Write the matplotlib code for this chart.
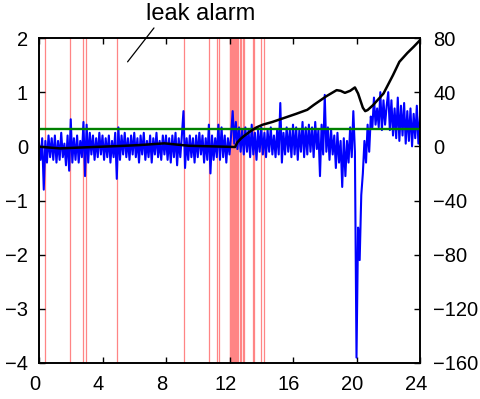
import numpy as np
import matplotlib
matplotlib.use("Agg")
import matplotlib.pyplot as plt
from matplotlib.transforms import ScaledTranslation

plt.rcParams['font.family'] = ['Liberation Sans', 'DejaVu Sans']

# ---- data -------------------------------------------------------------
# pressure-residual signal (left axis), sampled every 0.1 h from 0 to 24 h
residual = [
    0.05, -0.25, 0.15, -0.80, 0.10, -0.30, 0.20, -0.20, 0.15, -0.25,
    0.20, -0.30, 0.10, -0.25, 0.25, -0.20, 0.05, -0.35, 0.20, -0.45,
    0.50, -0.30, 0.15, -0.25, 0.20, -0.30, 0.10, -0.20, 0.45, -0.55,
    0.40, -0.30, 0.25, -0.15, 0.20, -0.25, 0.15, -0.20, 0.25, -0.15,
    0.20, -0.25, 0.15, -0.20, 0.20, -0.30, 0.10, -0.20, 0.25, -0.60,
    0.35, -0.25, 0.20, -0.15, 0.25, -0.20, 0.15, -0.25, 0.20, -0.15,
    0.25, -0.20, 0.15, -0.30, 0.20, -0.15, 0.25, -0.25, 0.10, -0.20,
    0.20, -0.30, 0.15, -0.15, 0.25, -0.20, 0.10, -0.25, 0.20, -0.15,
    0.20, -0.25, 0.15, -0.30, 0.20, -0.20, 0.25, -0.35, 0.15, -0.20,
    0.20, 0.65, -0.40, 0.15, -0.25, 0.20, -0.20, 0.15, -0.30, 0.20,
    -0.20, 0.25, -0.15, 0.20, -0.30, 0.15, -0.25, 0.40, -0.50, 0.20,
    -0.25, 0.15, -0.20, 0.40, -0.25, 0.35, -0.20, 0.20, -0.30, 0.15,
    -0.15, 0.20, 0.65, 0.05, 0.45, -0.05, 0.35, -0.10, 0.30, -0.15,
    0.35, -0.10, 0.30, -0.20, 0.40, -0.15, 0.25, -0.25, 0.30, -0.10,
    0.35, -0.15, 0.25, -0.20, 0.30, -0.10, 0.35, -0.15, 0.20, -0.20,
    0.30, -0.15, 0.80, -0.30, 0.25, -0.15, 0.35, -0.10, 0.30, -0.20,
    0.40, -0.15, 0.35, -0.25, 0.30, -0.10, 0.45, -0.20, 0.35, -0.15,
    0.40, -0.10, 0.35, -0.20, 0.45, -0.05, 0.30, -0.55, 0.40, -0.15,
    0.95, -0.10, 0.35, -0.25, 0.30, -0.15, 0.20, -0.40, 0.25, -0.30,
    0.10, -0.75, 0.15, -0.55, 0.10, -0.30, 0.35, -0.20, 0.65, -0.10,
    -3.90, -1.50, -2.10, -0.90, -0.50, 0.10, -0.30, 0.40, -0.10, 0.55,
    0.35, 0.90, 0.40, 0.70, 0.35, 1.00, 0.30, 0.85, 0.40, 0.75,
    1.00, 0.30, 0.85, 0.20, 0.70, 0.15, 0.90, 0.10, 0.75, 0.20,
    0.80, 0.05, 0.65, 0.10, 0.70, 0.00, 0.60, 0.15, 0.75, 0.05,
    0.55,
]
residual_time = np.arange(len(residual)) * 0.1

# detection threshold (left axis)
threshold = 0.32

# cumulative statistic (right axis)
cusum_time = [0.0, 1.3, 3.0, 5.0, 6.3, 7.9, 9.45, 11.8, 12.35, 12.5, 12.7,
              12.9, 13.3, 13.7, 14.1, 14.7, 15.2, 16.2, 16.9, 17.3, 18.1,
              18.75, 19.0, 19.27, 19.6, 19.9, 20.1, 20.4, 20.55, 20.7,
              21.05, 21.7, 22.3, 22.7, 23.2, 23.6, 24.0]
cusum = [-0.3, -1.5, -0.7, 0.2, 0.9, 2.2, 0.4, -0.3, -0.5, 3.0, 5.5,
         7.5, 11.0, 14.0, 16.0, 18.0, 20.0, 24.0, 27.0, 30.5, 37.0,
         41.5, 41.0, 39.5, 41.0, 43.5, 39.0, 28.5, 26.0, 26.8,
         30.5, 39.0, 52.6, 62.4, 68.9, 73.5, 78.4]

# times at which the leak alarm fired
alarm_times = [0.38, 1.95, 2.8, 2.98, 4.94, 9.12, 10.7, 11.2, 11.37,
               12.0, 12.05, 12.1, 12.15, 12.2, 12.25, 12.3, 12.35, 12.4,
               12.45, 12.5, 12.55, 12.65, 12.75, 12.85, 12.9,
               13.46, 13.56, 13.97, 14.19]

x_ticks = [0, 4, 8, 12, 16, 20, 24]
left_ticks = [-4, -3, -2, -1, 0, 1, 2]
right_ticks = [-160, -120, -80, -40, 0, 40, 80]

# ---- figure -----------------------------------------------------------
fig = plt.figure(figsize=(4.8, 3.99), dpi=100)
ax = fig.add_axes([39 / 480, 36 / 399, 381 / 480, 325 / 399])
ax2 = ax.twinx()

for t in alarm_times:
    ax.axvline(t, color='#ff8585', lw=0.9, zorder=1)

ax.plot(residual_time, residual, color='#0000ff', lw=1.5, zorder=2)
ax.axhline(threshold, color=(0, 0.5, 0), lw=1.7, zorder=3)
ax2.plot(cusum_time, cusum, color='black', lw=1.8)

ax.set_xlim(0, 24)
ax.set_ylim(-4, 2)
ax2.set_ylim(-160, 80)
ax.set_xticks(x_ticks)
ax.set_yticks(left_ticks)
ax2.set_yticks(right_ticks)

for a in (ax, ax2):
    for s in a.spines.values():
        s.set_linewidth(1.2)
    a.tick_params(direction='in', length=4, width=1.0, labelsize=14.5)
ax.tick_params(axis='x', top=True, pad=8.5)
ax.tick_params(axis='y', pad=8)
ax2.tick_params(axis='y', pad=9.5)

# x tick labels sit slightly left of their ticks
shift = ScaledTranslation(-4 / 100, 0, fig.dpi_scale_trans)
for lab in ax.get_xticklabels():
    lab.set_transform(lab.get_transform() + shift)

ax.annotate('leak alarm', xy=(5.58, 1.56), xytext=(10.2, 2.44),
            ha='center', va='center', fontsize=17, annotation_clip=False,
            arrowprops=dict(arrowstyle='-', lw=0.9, color='black',
                            relpos=(0.09, 0.0), shrinkA=0, shrinkB=0))

fig.savefig('out.png', dpi=100)
